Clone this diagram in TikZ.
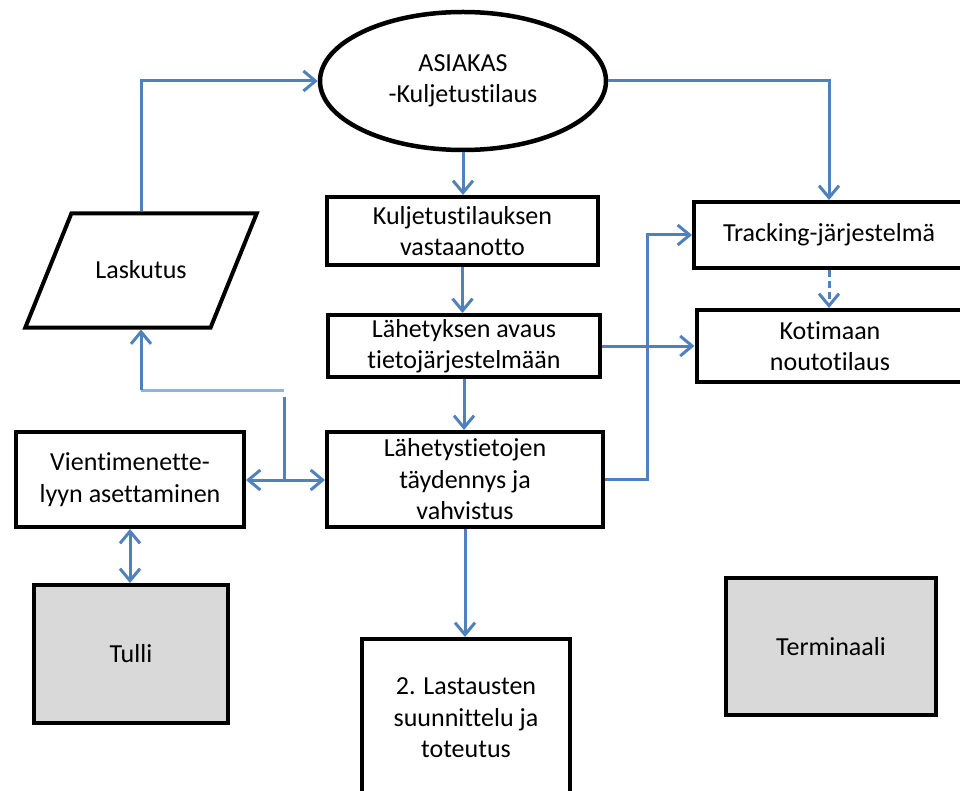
\documentclass[tikz,border=0pt]{standalone}
\usepackage{fontspec}
\setmainfont{Carlito}[Ligatures=NoCommon]
\usetikzlibrary{arrows.meta,shapes.geometric}
\definecolor{flowblue}{HTML}{4F81BD}
\definecolor{paleblue}{HTML}{95B3D7}

\begin{document}
\begin{tikzpicture}[x=1pt,y=-1pt]
\tikzstyle{box}=[rectangle,draw,line width=4pt,align=center,inner sep=0pt,font=\fontsize{26}{31.5}\selectfont]
\tikzstyle{actor}=[box,fill=black!15]
\tikzstyle{arrow}=[-{Straight Barb[length=12pt,width=20pt]},line width=3pt,flowblue]
\tikzstyle{both}=[arrow,{Straight Barb[length=12pt,width=20pt]}-{Straight Barb[length=12pt,width=20pt]}]
\useasboundingbox (0,0) rectangle (960,791);
\clip (0,0) rectangle (960,791);
\node [box,ellipse,line width=4.5pt,minimum width=286pt,minimum height=138pt] (n1) at (463,81) {ASIAKAS\\-Kuljetustilaus};
\node [box,minimum width=271pt,minimum height=68pt] (n2) at (462.5,231) {Kuljetustilauksen\\vastaanotto};
\node [box,minimum width=272pt,minimum height=62pt] (n3) at (464,346) {Lähetyksen avaus\\tietojärjestelmään};
\node [box,minimum width=276pt,minimum height=95pt] (n4) at (465,479.5) {Lähetystietojen\\täydennys ja\\vahvistus};
\node [box,minimum width=208pt,minimum height=158pt] (n5) at (466,718) {2. Lastausten\\suunnittelu ja\\toteutus};
\node [box,minimum width=270pt,minimum height=66pt] (n6) at (829,235) {Tracking-järjestelmä};
\node [box,minimum width=267pt,minimum height=72pt] (n7) at (830,346) {Kotimaan\\noutotilaus};
\node [box,trapezium,trapezium left angle=68,trapezium right angle=112,text height=17pt,text depth=0pt,inner xsep=24pt,inner ysep=48.5pt] (n8) at (141,270.5) {Laskutus};
\node [box,minimum width=228pt,minimum height=95pt] (n9) at (130,479.5) {Vientimenette-\\lyyn asettaminen};
\node [actor,minimum width=194pt,minimum height=138pt] (n10) at (131,654) {Tulli};
\node [actor,minimum width=210pt,minimum height=137pt] (n11) at (831,646.5) {Terminaali};
\coordinate (c1) at (284,390);
\coordinate (c2) at (284,397);
\coordinate (c3) at (284,480);
\draw [arrow] (n8.north) |- (n1.west);
\draw [arrow] (n1.south) -- (n1.south |- n2.north);
\draw [arrow] (n1.east) -| (n6.north);
\draw [arrow] (n2.south) -- (n2.south |- n3.north);
\draw [arrow] (n3.south) -- (n3.south |- n4.north);
\draw [arrow] (n3.east) -- (n3.east -| n7.west);
\draw [arrow] (n4.east) -- ++(42,0) |- (n6.west);
\draw [arrow,dash pattern=on 7pt off 4pt] (n6.south) -- (n6.south |- n7.north);
\draw [arrow] (n4.south) -- (n4.south |- n5.north);
\draw [line width=3pt,paleblue] (c1) -- (c1 -| n8.south);
\draw [arrow] (c1 -| n8.south) -- (n8.south);
\draw [line width=3pt,flowblue] (c2) -- (c3);
\draw [arrow] (c3) -- (c3 -| n9.east);
\draw [arrow] (c3) -- (c3 -| n4.west);
\draw [both] (n9.south) -- (n9.south |- n10.north);
\end{tikzpicture}
\end{document}
